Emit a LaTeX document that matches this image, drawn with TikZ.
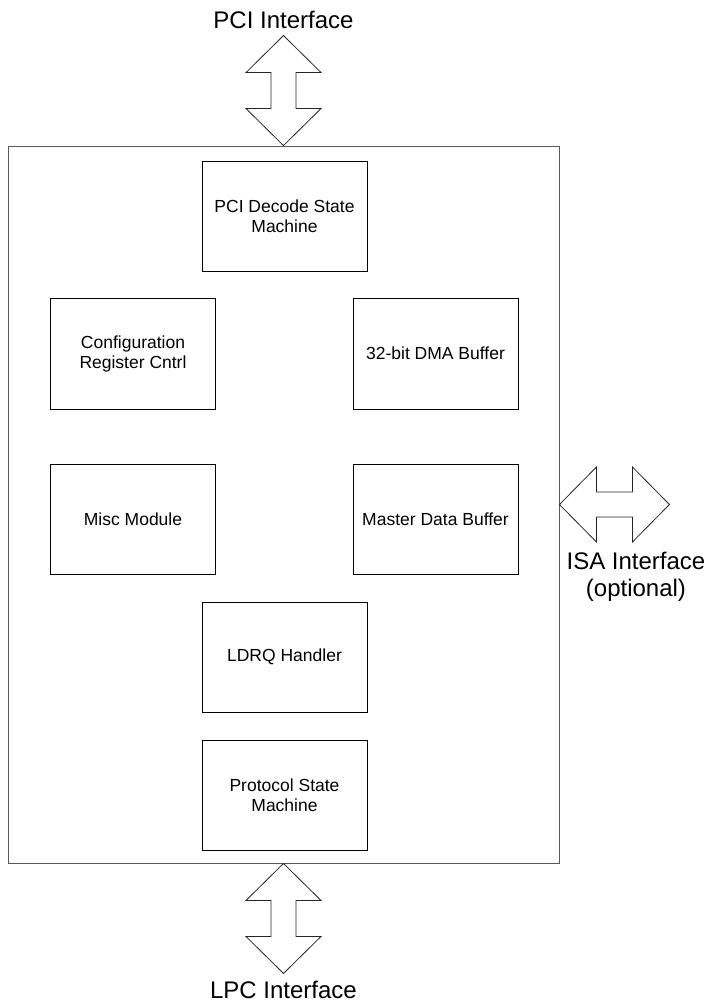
\documentclass[tikz,border=0pt]{standalone}
\usepackage{fontspec}
\setmainfont{Liberation Sans}
\usetikzlibrary{positioning}
\tikzset{
	block/.style={draw=black,line width=0.8pt,minimum width=165pt,minimum height=110pt,inner sep=0pt,align=center,font=\fontsize{17.5}{20}\selectfont},
	chipbox/.style={draw=black!65,line width=0.9pt,minimum width=551pt,minimum height=717pt,inner sep=0pt},
	iflabel/.style={inner sep=0pt,align=center,font=\fontsize{24}{26.5}\selectfont},
	bus/.style={draw=black!85,line width=0.8pt,fill=white,line join=miter},
	dblarrow/.pic={\path[bus] (0,0) -- (37.5,37) -- (12.5,37) -- (12.5,73) -- (37.5,73) -- (0,110) -- (-37.5,73) -- (-12.5,73) -- (-12.5,37) -- (-37.5,37) -- cycle;}
}
\begin{document}
\begin{tikzpicture}[x=1pt,y=-1pt,node distance=138pt,on grid]
\useasboundingbox (0,0) rectangle (709,1004);
\node[chipbox]						(chip)		at (283.5,504.5)						{};
\node[block]						(pcidec)	at (284.5,216)						{PCI Decode State\\Machine};
\node[block,minimum height=111pt]	(cfg)		[below left=137.5pt and 151.5pt of pcidec]	{Configuration\\Register Cntrl};
\node[block,minimum height=111pt]	(dma)		[right=302.5pt of cfg]					{32-bit DMA Buffer};
\node[block]						(misc)		[below=165.5pt of cfg]					{Misc Module};
\node[block]						(mdb)		[right=302.5pt of misc]					{Master Data Buffer};
\node[block]						(ldrq)		[below=441pt of pcidec]					{LDRQ Handler};
\node[block]						(proto)		[below=of ldrq]						{Protocol State\\Machine};

% interface buses
\pic[rotate=180]	at (chip.north)	{dblarrow};
\pic				at (chip.south)	{dblarrow};
\pic[rotate=90]	at (chip.east)	{dblarrow};
\coordinate (pcitop)	at ([yshift=110pt]chip.north);
\coordinate (lpcbot)	at ([yshift=-110pt]chip.south);

\node[iflabel,anchor=base]	(pci)	at ([yshift=7pt]pcitop)				{PCI Interface};
\node[iflabel,anchor=base]	(lpc)	at ([yshift=-25pt]lpcbot)				{LPC Interface};
\node[iflabel,anchor=north]	(isa)	at ([xshift=76.5pt,yshift=-47.5pt]chip.east)	{ISA Interface\\(optional)};
\end{tikzpicture}
\end{document}
